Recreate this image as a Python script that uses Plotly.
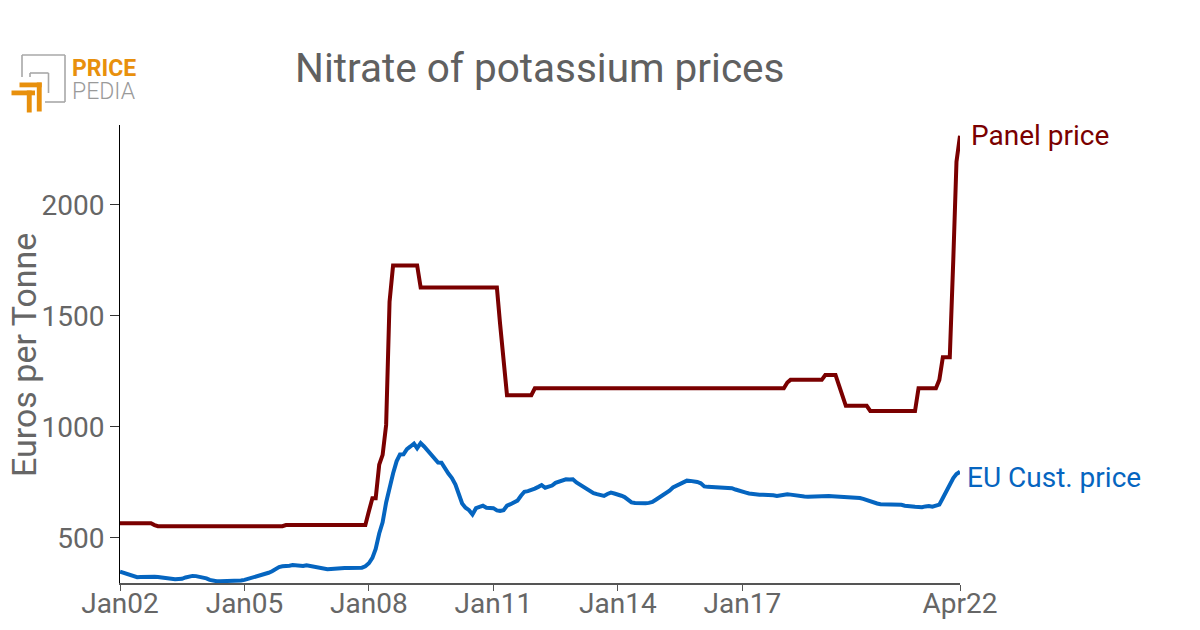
import pandas as pd
import plotly.graph_objects as go

# ---- data (monthly, Jan 2002 .. Apr 2022) ----
months = pd.date_range("2002-01-01", "2022-04-01", freq="MS")

panel_price = (
    [566, 566, 566, 566, 566, 566, 566, 566, 566, 566, 558, 553]            # 2002
    + [553] * 12                                                            # 2003
    + [553] * 12                                                            # 2004
    + [553] * 12                                                            # 2005
    + [558] * 12                                                            # 2006
    + [558, 558, 558, 558, 558, 558, 558, 558, 558, 558, 558, 558]          # 2007
    + [620, 679, 679, 830, 874, 1009, 1564, 1727, 1727, 1727, 1727, 1727]   # 2008
    + [1727, 1727, 1727, 1628, 1628, 1628, 1628, 1628, 1628, 1628, 1628, 1628]  # 2009
    + [1628] * 12                                                           # 2010
    + [1628, 1628, 1465, 1305, 1143, 1143, 1143, 1143, 1143, 1143, 1143, 1143]  # 2011
    + [1174] * 12                                                           # 2012
    + [1174] * 12                                                           # 2013
    + [1174] * 12                                                           # 2014
    + [1174] * 12                                                           # 2015
    + [1174] * 12                                                           # 2016
    + [1174] * 12                                                           # 2017
    + [1174, 1200, 1212, 1212, 1212, 1212, 1212, 1212, 1212, 1212, 1212, 1212]  # 2018
    + [1234, 1234, 1234, 1234, 1188, 1141, 1095, 1095, 1095, 1095, 1095, 1095]  # 2019
    + [1095, 1072, 1072, 1072, 1072, 1072, 1072, 1072, 1072, 1072, 1072, 1072]  # 2020
    + [1072, 1072, 1072, 1174, 1174, 1174, 1174, 1174, 1174, 1212, 1314, 1314]  # 2021
    + [1314, 1755, 2195, 2312]                                              # 2022
)

eu_cust_price = (
    [348, 343, 336, 330, 326, 323, 324, 325, 325, 325, 325, 324]            # 2002
    + [322, 319, 316, 314, 314, 315, 316, 322, 328, 329, 328, 326]          # 2003
    + [324, 318, 311, 307, 305, 305, 305, 306, 306, 306, 306, 308]          # 2004
    + [311, 315, 319, 323, 329, 334, 339, 343, 350, 360, 369, 372]          # 2005
    + [372, 375, 378, 376, 372, 374, 377, 374, 369, 365, 362, 360]          # 2006
    + [359, 360, 362, 363, 364, 365, 365, 365, 366, 366, 366, 372]          # 2007
    + [386, 410, 450, 520, 570, 660, 735, 790, 845, 876, 877, 900]          # 2008
    + [912, 925, 904, 927, 912, 895, 878, 858, 840, 839, 810, 790]          # 2009
    + [770, 740, 700, 655, 636, 625, 606, 634, 640, 645, 636, 635]          # 2010
    + [634, 624, 622, 625, 645, 652, 660, 668, 690, 708, 711, 715]          # 2011
    + [722, 730, 738, 726, 730, 736, 748, 755, 762, 764, 763, 764]          # 2012
    + [750, 740, 730, 720, 708, 702, 697, 692, 689, 698, 704, 700]          # 2013
    + [697, 690, 684, 670, 660, 657, 656, 656, 656, 658, 662, 672]          # 2014
    + [682, 693, 703, 713, 727, 735, 745, 755, 758, 757, 756, 752]          # 2015
    + [746, 732, 730, 729, 728, 728, 728, 727, 725, 724, 718, 712]          # 2016
    + [707, 704, 700, 697, 697, 695, 694, 694, 694, 692, 689, 692]          # 2017
    + [695, 697, 695, 692, 690, 688, 687, 686, 687, 688, 689, 689]          # 2018
    + [690, 689, 688, 687, 686, 685, 684, 684, 684, 683, 680, 676]          # 2019
    + [670, 666, 661, 655, 652, 652, 651, 650, 650, 649, 649, 645]          # 2020
    + [642, 642, 640, 639, 638, 642, 644, 641, 648, 650, 680, 712]          # 2021
    + [745, 770, 788, 798]                                                  # 2022
)

tick_dates = ["2002-01-01", "2005-01-01", "2008-01-01", "2011-01-01",
              "2014-01-01", "2017-01-01", "2022-04-01"]
tick_labels = ["Jan02", "Jan05", "Jan08", "Jan11", "Jan14", "Jan17", "Apr22"]
y_ticks = [500, 1000, 1500, 2000]

title_text = "Nitrate of potassium prices"
y_title = "Euros per Tonne"
panel_name = "Panel price"
eu_name = "EU Cust. price"

# ---- layout (page has an 8px body margin, so figure is 8px smaller) ----
OFF = 8
W, H = 1200 - OFF, 630 - OFF
# plot area in page pixels
P_L, P_R, P_T, P_B = 120, 960, 125, 583
ML, MR, MT, MB = P_L - OFF, W - (P_R - OFF), P_T - OFF, H - (P_B - OFF)
PW, PH = P_R - P_L, P_B - P_T


def px(x):
    return (x - P_L) / PW


def py(y):
    return (P_B - y) / PH


RED = "#7a0000"
BLUE = "#0565c0"
GREY = "#666666"
ORANGE = "#e8900c"
FONT = "Roboto"

fig = go.Figure()
fig.add_trace(go.Scatter(x=months, y=panel_price, mode="lines", name=panel_name,
                         line=dict(color=RED, width=4), showlegend=False))
fig.add_trace(go.Scatter(x=months, y=eu_cust_price, mode="lines", name=eu_name,
                         line=dict(color=BLUE, width=4), showlegend=False))

fig.update_layout(
    width=W, height=H,
    margin=dict(l=ML, r=MR, t=MT, b=MB, autoexpand=False),
    plot_bgcolor="white", paper_bgcolor="white",
    font=dict(family=FONT, color=GREY),
)
fig.add_annotation(x=0.5, y=py(68), xref="paper", yref="paper", text=title_text,
                   showarrow=False, xanchor="center", yanchor="middle",
                   font=dict(size=40.5, color="#606060", family=FONT))
fig.update_xaxes(
    type="date", range=[months[0], months[-1]],
    tickvals=tick_dates, ticktext=tick_labels,
    showline=True, linecolor="#555555", linewidth=2,
    ticks="outside", ticklen=6, tickcolor="#555555",
    ticklabelstandoff=-12,
    showgrid=False, zeroline=False, automargin=False,
    tickfont=dict(size=28, color=GREY, family=FONT),
)
fig.update_yaxes(
    range=[297, 2360], tickvals=y_ticks,
    showline=True, linecolor="black", linewidth=1,
    ticks="outside", ticklen=9, tickcolor="#333333",
    showgrid=False, zeroline=False, automargin=False,
    tickfont=dict(size=28, color=GREY, family=FONT),
)

# y-axis title
fig.add_annotation(x=px(24), y=py(355), xref="paper", yref="paper", text=y_title,
                   showarrow=False, xanchor="center", yanchor="middle", textangle=-90,
                   font=dict(size=34, color=GREY, family=FONT))

# end labels
fig.add_annotation(x=px(969), y=py(135), xref="paper", yref="paper", text=panel_name,
                   showarrow=False, xanchor="left", yanchor="middle",
                   font=dict(size=28, color=RED, family=FONT))
fig.add_annotation(x=px(965), y=py(477), xref="paper", yref="paper", text=eu_name,
                   showarrow=False, xanchor="left", yanchor="middle",
                   font=dict(size=28, color=BLUE, family=FONT))

# ---- logo ----
def seg(x0, y0, x1, y1, color, w):
    fig.add_shape(type="line", xref="paper", yref="paper",
                  x0=px(x0), y0=py(y0), x1=px(x1), y1=py(y1),
                  line=dict(color=color, width=w))


def box(x0, y0, x1, y1, color):
    fig.add_shape(type="rect", xref="paper", yref="paper",
                  x0=px(x0), y0=py(y0), x1=px(x1), y1=py(y1),
                  line=dict(width=0), fillcolor=color)


LG = "#a8a8a8"
seg(22, 55, 65, 55, LG, 1.6)
seg(22, 55, 22, 77, LG, 1.6)
seg(65, 55, 65, 102, LG, 1.6)
seg(45, 102, 65, 102, LG, 1.6)
seg(30, 73, 48.5, 73, LG, 1.6)
seg(48.5, 73, 48.5, 93, LG, 1.6)
seg(30, 73, 30, 77, LG, 1.6)
box(19.5, 82.5, 41.7, 87.3, ORANGE)
box(36.8, 82.5, 41.7, 111.5, ORANGE)
box(11.5, 90.5, 35, 95.3, ORANGE)
box(26.8, 90.5, 31.7, 112.5, ORANGE)
logo_text = ("<span style='font-size:23px;color:%s'><b>PRICE</b></span><br>"
             "<span style='font-size:23px;color:#9a9a9a;font-weight:300'>PEDIA</span>") % ORANGE
fig.add_annotation(x=px(70), y=py(79.5), xref="paper", yref="paper", text=logo_text,
                   showarrow=False, xanchor="left", yanchor="middle", align="left",
                   font=dict(size=18, family=FONT))

fig.write_html("out.html")
